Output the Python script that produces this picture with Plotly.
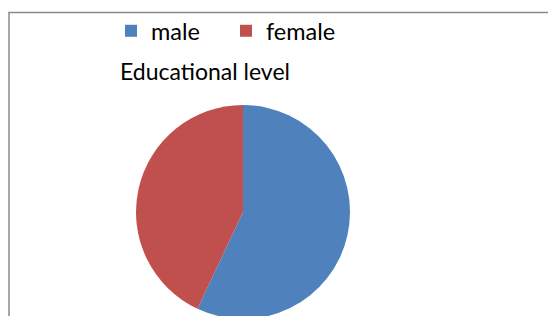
import plotly.graph_objects as go

labels = ["male", "female"]
values = [57, 43]
colors = ["#4F81BD", "#C0504D"]
title_text = "Educational level"

W, H = 556, 316
OFF = 8  # page body margin offset

cx, cy, r = 243 - OFF, 212 - OFF, 107

fig = go.Figure(
    go.Pie(
        labels=labels,
        values=values,
        marker=dict(colors=colors, line=dict(width=0)),
        sort=False,
        direction="clockwise",
        rotation=0,
        textinfo="none",
        hoverinfo="label+percent",
        domain=dict(x=[(cx - r) / W, (cx + r) / W], y=[1 - (cy + r) / H, 1 - (cy - r) / H]),
    )
)

fig.add_shape(
    type="rect", xref="paper", yref="paper",
    x0=(9 - OFF) / W, x1=1.05, y0=-0.05, y1=1 - (12.5 - OFF) / H,
    line=dict(color="#8a8a8a", width=1.5),
)

fig.add_annotation(
    text=title_text, xref="paper", yref="paper",
    x=(204.5 - OFF) / W, y=1 - (71 - OFF) / H, xanchor="center", yanchor="middle",
    showarrow=False, font=dict(size=23, color="#000000"),
)

fig.update_layout(
    width=W, height=H,
    margin=dict(l=0, r=0, t=0, b=0),
    paper_bgcolor="white",
    font=dict(family="Lato", size=23, color="#000000"),
    showlegend=True,
    legend=dict(
        orientation="h", x=(111 - OFF) / W, y=1 - (31 - OFF) / H, xanchor="left", yanchor="middle",
        entrywidth=70, entrywidthmode="pixels",
        font=dict(size=23.5), bgcolor="rgba(0,0,0,0)",
    ),
)

fig.write_html("out.html")
